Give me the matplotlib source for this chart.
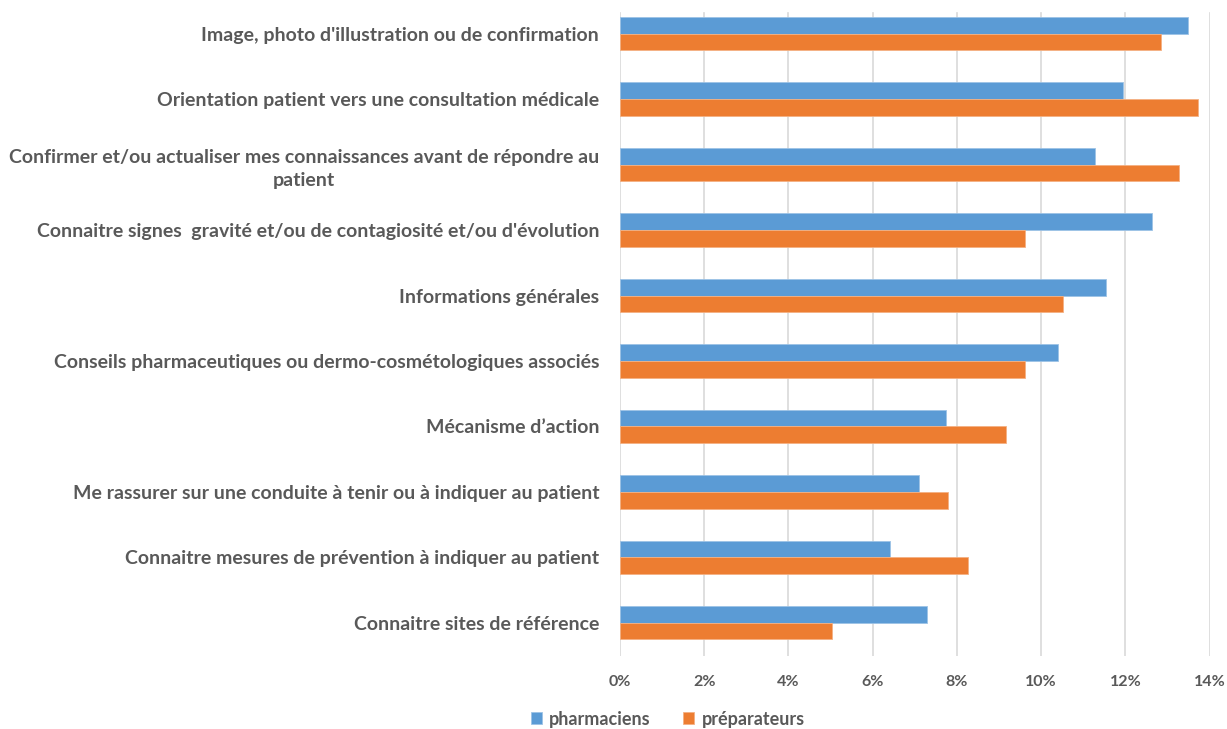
import matplotlib.pyplot as plt
import numpy as np

plt.rcParams['font.family'] = ['Lato', 'DejaVu Sans']

categories = [
    "Image, photo d'illustration ou de confirmation",
    "Orientation patient vers une consultation médicale",
    "Confirmer et/ou actualiser mes connaissances avant de répondre au\npatient",
    "Connaitre signes  gravité et/ou de contagiosité et/ou d'évolution",
    "Informations générales",
    "Conseils pharmaceutiques ou dermo-cosmétologiques associés",
    "Mécanisme d’action",
    "Me rassurer sur une conduite à tenir ou à indiquer au patient",
    "Connaitre mesures de prévention à indiquer au patient",
    "Connaitre sites de référence",
]
pharmaciens = [13.49, 11.94, 11.28, 12.63, 11.53, 10.40, 7.75, 7.10, 6.41, 7.30]
preparateurs = [12.84, 13.73, 13.27, 9.61, 10.52, 9.61, 9.16, 7.79, 8.27, 5.03]
xticks = [0, 2, 4, 6, 8, 10, 12, 14]

blue = '#5B9BD5'
orange = '#ED7D31'
grey_txt = '#595959'

fig = plt.figure(figsize=(12.27, 7.29), dpi=100)
ax = fig.add_axes([620 / 1227, 1 - 655.5 / 729, 589.6 / 1227, 654.5 / 729])

y = np.arange(len(categories))
h = 0.255
ax.barh(y - h / 2, pharmaciens, height=h, color=blue, label='pharmaciens',
        edgecolor='#9DC3E6', linewidth=0.6, zorder=3)
ax.barh(y + h / 2, preparateurs, height=h, color=orange, label='préparateurs',
        edgecolor='#F4B183', linewidth=0.6, zorder=3)

ax.set_xlim(0, 14)
ax.set_ylim(len(categories) - 0.5, -0.5)

# vertical gridlines, starting a bit below the top like the original
for t in xticks:
    ax.axvline(t, ymin=0, ymax=(655.5 - 13) / 654.5, color='#D9D9D9', lw=1.2, zorder=1)

ax.set_xticks(xticks)
ax.set_xticklabels([f'{t}%' for t in xticks], fontsize=11.5, fontweight='bold', color=grey_txt)
ax.set_yticks(y)
ax.set_yticklabels(categories, fontsize=14, fontweight='bold', color=grey_txt,
                   multialignment='center', linespacing=1.45)
ax.tick_params(axis='both', length=0)
ax.tick_params(axis='x', pad=14)
ax.tick_params(axis='y', pad=15)
for s in ax.spines.values():
    s.set_visible(False)

leg = fig.legend(loc='center', bbox_to_anchor=(668 / 1227, 1 - 719 / 729), ncol=2,
                 frameon=False, handlelength=0.6, handleheight=0.6, handletextpad=0.4,
                 columnspacing=1.8, prop={'size': 13, 'weight': 'bold'})
for t in leg.get_texts():
    t.set_color(grey_txt)

fig.savefig('out.png', dpi=100)
